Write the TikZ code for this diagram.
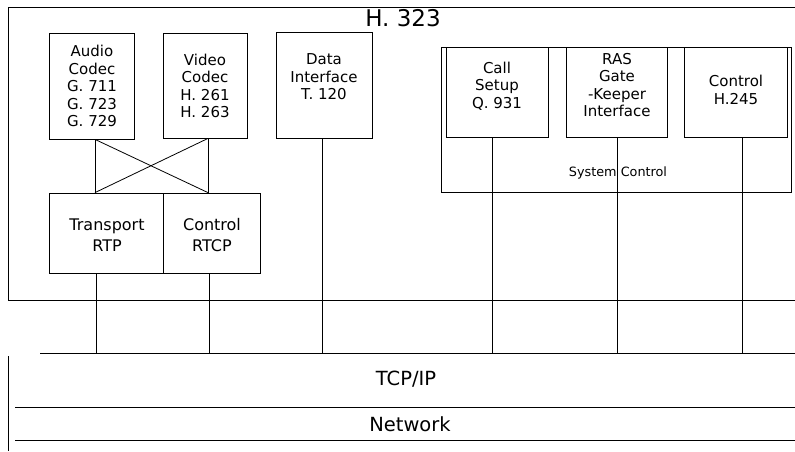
\documentclass[tikz,border=0pt]{standalone}
\usepackage{fontspec}
\setmainfont{DejaVu Sans}
\begin{document}
\begin{tikzpicture}[x=1pt,y=-1pt,line width=0.8pt,
  box/.style={draw,inner sep=0pt},
  lbl/.style={align=center,inner sep=0pt,font=\fontsize{15}{17.5}\selectfont},
  lblb/.style={align=center,inner sep=0pt,font=\fontsize{16}{20.5}\selectfont},
  layer/.style={inner sep=0pt,font=\fontsize{19.5}{22}\selectfont}]
\useasboundingbox (0,0) rectangle (795,451);
% H.323 frame
\draw (795,7) -- (8,7) -- (8,300) -- (795,300);
\node[inner sep=0pt,font=\fontsize{23}{26}\selectfont] (h323) at (403,18) {H. 323};
% media boxes
\node[box,minimum width=85pt,minimum height=106pt] (audio) at (91.5,86) {};
\node[lbl] (audiot) at (92,86) {Audio\\Codec\\G. 711\\G. 723\\G. 729};
\node[box,minimum width=84pt,minimum height=105pt] (video) at (205,85.5) {};
\node[lbl] (videot) at (205,86) {Video\\Codec\\H. 261\\H. 263};
\node[box,minimum width=96pt,minimum height=106pt] (data) at (324,85) {};
\node[lbl] (datat) at (324,77) {Data\\Interface\\T. 120};
% transport
\node[box,minimum width=114pt,minimum height=80pt] (trans) at (106,233) {};
\node[lblb] (transt) at (107,235) {Transport\\RTP};
\node[box,minimum width=97pt,minimum height=80pt] (rtcp) at (211.5,233) {};
\node[lblb] (rtcpt) at (212,235) {Control\\RTCP};
% system control
\node[box,minimum width=350pt,minimum height=145pt] (sys) at (616,119.5) {};
\node[inner sep=0pt,font=\fontsize{12.8}{15}\selectfont] (syst) at (618,173) {System Control};
\node[box,minimum width=102pt,minimum height=90pt] (call) at (497,92) {};
\node[lbl] (callt) at (497,86) {Call\\Setup\\Q. 931};
\node[box,minimum width=101pt,minimum height=90pt] (ras) at (616.5,92) {};
\node[lbl] (rast) at (617,85) {RAS\\Gate\\-Keeper\\Interface};
\node[box,minimum width=103pt,minimum height=90pt] (ctl) at (735.5,92) {};
\node[lbl] (ctlt) at (736,90) {Control\\H.245};
% layers
\draw (40,353) -- (795,353);
\draw (8,356) -- (8,451);
\draw (15,407) -- (795,407);
\draw (15,440) -- (795,440);
\node[layer] (tcp) at (406,379) {TCP/IP};
\node[layer] (net) at (410,424) {Network};
% connectors
\coordinate (xa) at (95,0);
\coordinate (xv) at (208,0);
\coordinate (xt) at (96,0);
\coordinate (xr) at (209,0);
\coordinate (xd) at (322,0);
\coordinate (xc) at (492,0);
\coordinate (xg) at (617,0);
\coordinate (xh) at (742,0);
\coordinate (tcptop) at (0,353);
\draw (audio.south -| xa) -- (trans.north -| xa);
\draw (video.south -| xv) -- (trans.north -| xv);
\draw (audio.south -| xa) -- (trans.north -| xv);
\draw (video.south -| xv) -- (trans.north -| xa);
\draw (trans.south -| xt) -- (tcptop -| xt);
\draw (rtcp.south -| xr) -- (tcptop -| xr);
\draw (data.south -| xd) -- (tcptop -| xd);
\draw (call.south -| xc) -- (tcptop -| xc);
\draw (ras.south -| xg) -- (tcptop -| xg);
\draw (ctl.south -| xh) -- (tcptop -| xh);
\end{tikzpicture}
\end{document}
